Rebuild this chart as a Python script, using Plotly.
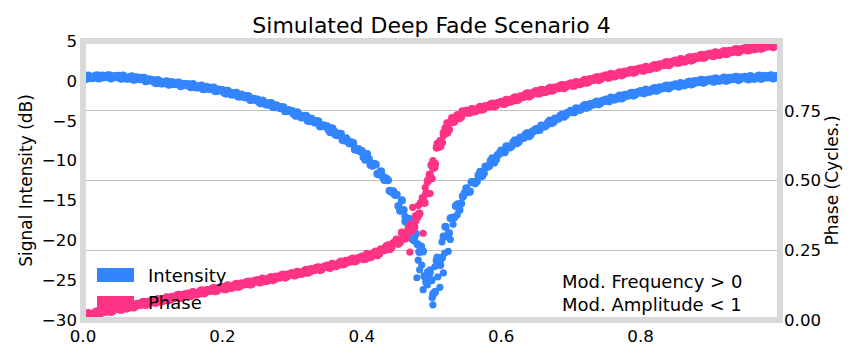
import plotly.graph_objects as go

# ---------------- data ----------------
x_vals = [
    0.000, 0.005, 0.010, 0.015, 0.020, 0.025, 0.030, 0.035, 0.040, 0.045,
    0.050, 0.055, 0.060, 0.065, 0.070, 0.075, 0.080, 0.085, 0.090, 0.095,
    0.100, 0.105, 0.110, 0.115, 0.120, 0.125, 0.130, 0.135, 0.140, 0.145,
    0.150, 0.155, 0.160, 0.165, 0.170, 0.175, 0.180, 0.185, 0.190, 0.195,
    0.200, 0.205, 0.210, 0.215, 0.220, 0.225, 0.230, 0.235, 0.240, 0.245,
    0.250, 0.255, 0.260, 0.265, 0.270, 0.275, 0.280, 0.285, 0.290, 0.295,
    0.300, 0.305, 0.310, 0.315, 0.320, 0.325, 0.330, 0.335, 0.340, 0.345,
    0.350, 0.355, 0.360, 0.365, 0.370, 0.375, 0.380, 0.385, 0.390, 0.395,
    0.400, 0.405, 0.410, 0.415, 0.420, 0.425, 0.430, 0.435, 0.440, 0.445,
    0.450, 0.455, 0.460, 0.465, 0.470, 0.475, 0.480, 0.485, 0.490, 0.495,
    0.500, 0.505, 0.510, 0.515, 0.520, 0.525, 0.530, 0.535, 0.540, 0.545,
    0.550, 0.555, 0.560, 0.565, 0.570, 0.575, 0.580, 0.585, 0.590, 0.595,
    0.600, 0.605, 0.610, 0.615, 0.620, 0.625, 0.630, 0.635, 0.640, 0.645,
    0.650, 0.655, 0.660, 0.665, 0.670, 0.675, 0.680, 0.685, 0.690, 0.695,
    0.700, 0.705, 0.710, 0.715, 0.720, 0.725, 0.730, 0.735, 0.740, 0.745,
    0.750, 0.755, 0.760, 0.765, 0.770, 0.775, 0.780, 0.785, 0.790, 0.795,
    0.800, 0.805, 0.810, 0.815, 0.820, 0.825, 0.830, 0.835, 0.840, 0.845,
    0.850, 0.855, 0.860, 0.865, 0.870, 0.875, 0.880, 0.885, 0.890, 0.895,
    0.900, 0.905, 0.910, 0.915, 0.920, 0.925, 0.930, 0.935, 0.940, 0.945,
    0.950, 0.955, 0.960, 0.965, 0.970, 0.975, 0.980, 0.985, 0.990, 0.995,
    1.000,
]

intensity_db = [
    0.60, 0.26, 0.52, 0.38, 0.69, 0.35, 0.50, 0.65, 0.30, 0.59,
    0.63, 0.26, 0.48, 0.30, 0.56, 0.17, 0.27, 0.37, -0.05, 0.18,
    0.10, -0.30, -0.10, -0.30, -0.05, -0.45, -0.35, -0.25, -0.65, -0.40,
    -0.40, -0.80, -0.60, -0.82, -0.60, -1.02, -0.95, -0.87, -1.30, -1.10,
    -1.15, -1.60, -1.45, -1.70, -1.50, -1.97, -1.95, -1.92, -2.40, -2.25,
    -2.35, -2.82, -2.70, -2.97, -2.80, -3.30, -3.30, -3.30, -3.80, -3.67,
    -3.80, -4.37, -4.25, -4.57, -4.40, -5.05, -5.05, -5.05, -5.70, -5.57,
    -5.70, -6.45, -6.30, -6.82, -6.65, -7.47, -7.60, -7.70, -8.60, -8.55,
    -8.80, -9.90, -9.80, -10.65, -10.50, -11.75, -12.00, -12.25, -13.80, -13.85,
    -14.30, -16.30, -16.20, -17.75, -17.50, -20.00, -20.50, -20.80, -24.50, -24.00,
    -25.00, -26.50, -22.70, -22.20, -18.30, -19.10, -17.20, -15.70, -16.20, -14.50,
    -13.50, -13.90, -12.70, -12.60, -11.40, -11.60, -10.80, -10.05, -10.25, -9.30,
    -8.75, -8.95, -8.25, -8.15, -7.45, -7.65, -7.20, -6.75, -6.95, -6.35,
    -6.05, -6.15, -5.65, -5.55, -5.00, -5.15, -4.80, -4.40, -4.50, -4.00,
    -3.75, -3.95, -3.53, -3.52, -3.05, -3.27, -3.00, -2.72, -2.95, -2.52,
    -2.35, -2.57, -2.20, -2.25, -1.85, -2.10, -1.85, -1.60, -1.85, -1.45,
    -1.30, -1.56, -1.22, -1.28, -0.90, -1.16, -0.92, -0.68, -0.95, -0.57,
    -0.45, -0.72, -0.40, -0.47, -0.10, -0.37, -0.15, 0.05, -0.25, 0.10,
    0.20, -0.11, 0.18, 0.07, 0.40, 0.08, 0.25, 0.43, 0.10, 0.43,
    0.50, 0.18, 0.45, 0.32, 0.65, 0.32, 0.48, 0.64, 0.30, 0.60,
    0.48,
]

phase_cycles = [
    0.020, 0.012, 0.022, 0.019, 0.031, 0.023, 0.030, 0.038, 0.029, 0.041,
    0.045, 0.037, 0.047, 0.044, 0.056, 0.048, 0.055, 0.063, 0.054, 0.066,
    0.070, 0.062, 0.072, 0.069, 0.081, 0.073, 0.080, 0.088, 0.079, 0.091,
    0.095, 0.086, 0.097, 0.093, 0.106, 0.097, 0.104, 0.112, 0.103, 0.115,
    0.119, 0.110, 0.121, 0.117, 0.130, 0.121, 0.128, 0.136, 0.127, 0.139,
    0.143, 0.135, 0.145, 0.142, 0.154, 0.146, 0.153, 0.161, 0.152, 0.164,
    0.168, 0.160, 0.170, 0.167, 0.180, 0.172, 0.179, 0.187, 0.179, 0.190,
    0.195, 0.187, 0.198, 0.196, 0.209, 0.201, 0.209, 0.217, 0.210, 0.222,
    0.227, 0.219, 0.233, 0.229, 0.245, 0.238, 0.250, 0.263, 0.254, 0.275,
    0.288, 0.280, 0.304, 0.307, 0.342, 0.340, 0.370, 0.420, 0.420, 0.500,
    0.555, 0.560, 0.625, 0.636, 0.687, 0.682, 0.710, 0.726, 0.723, 0.741,
    0.750, 0.743, 0.754, 0.751, 0.764, 0.757, 0.765, 0.773, 0.765, 0.777,
    0.782, 0.775, 0.787, 0.784, 0.798, 0.791, 0.800, 0.809, 0.801, 0.814,
    0.820, 0.812, 0.823, 0.819, 0.832, 0.824, 0.832, 0.840, 0.831, 0.843,
    0.848, 0.840, 0.851, 0.848, 0.861, 0.853, 0.860, 0.868, 0.860, 0.872,
    0.877, 0.869, 0.879, 0.876, 0.888, 0.880, 0.887, 0.895, 0.886, 0.898,
    0.902, 0.894, 0.905, 0.901, 0.914, 0.906, 0.914, 0.922, 0.913, 0.925,
    0.930, 0.922, 0.932, 0.929, 0.941, 0.933, 0.940, 0.948, 0.939, 0.951,
    0.955, 0.946, 0.956, 0.952, 0.964, 0.955, 0.962, 0.969, 0.960, 0.971,
    0.975, 0.966, 0.976, 0.971, 0.983, 0.974, 0.981, 0.988, 0.978, 0.989,
    0.988,
]

# second, interleaved set of samples (half-step positions)
x_half = [
    0.0025, 0.0075, 0.0125, 0.0175, 0.0225, 0.0275, 0.0325, 0.0375, 0.0425, 0.0475,
    0.0525, 0.0575, 0.0625, 0.0675, 0.0725, 0.0775, 0.0825, 0.0875, 0.0925, 0.0975,
    0.1025, 0.1075, 0.1125, 0.1175, 0.1225, 0.1275, 0.1325, 0.1375, 0.1425, 0.1475,
    0.1525, 0.1575, 0.1625, 0.1675, 0.1725, 0.1775, 0.1825, 0.1875, 0.1925, 0.1975,
    0.2025, 0.2075, 0.2125, 0.2175, 0.2225, 0.2275, 0.2325, 0.2375, 0.2425, 0.2475,
    0.2525, 0.2575, 0.2625, 0.2675, 0.2725, 0.2775, 0.2825, 0.2875, 0.2925, 0.2975,
    0.3025, 0.3075, 0.3125, 0.3175, 0.3225, 0.3275, 0.3325, 0.3375, 0.3425, 0.3475,
    0.3525, 0.3575, 0.3625, 0.3675, 0.3725, 0.3775, 0.3825, 0.3875, 0.3925, 0.3975,
    0.4025, 0.4075, 0.4125, 0.4175, 0.4225, 0.4275, 0.4325, 0.4375, 0.4425, 0.4475,
    0.4525, 0.4575, 0.4625, 0.4675, 0.4725, 0.4775, 0.4825, 0.4875, 0.4925, 0.4975,
    0.5025, 0.5075, 0.5125, 0.5175, 0.5225, 0.5275, 0.5325, 0.5375, 0.5425, 0.5475,
    0.5525, 0.5575, 0.5625, 0.5675, 0.5725, 0.5775, 0.5825, 0.5875, 0.5925, 0.5975,
    0.6025, 0.6075, 0.6125, 0.6175, 0.6225, 0.6275, 0.6325, 0.6375, 0.6425, 0.6475,
    0.6525, 0.6575, 0.6625, 0.6675, 0.6725, 0.6775, 0.6825, 0.6875, 0.6925, 0.6975,
    0.7025, 0.7075, 0.7125, 0.7175, 0.7225, 0.7275, 0.7325, 0.7375, 0.7425, 0.7475,
    0.7525, 0.7575, 0.7625, 0.7675, 0.7725, 0.7775, 0.7825, 0.7875, 0.7925, 0.7975,
    0.8025, 0.8075, 0.8125, 0.8175, 0.8225, 0.8275, 0.8325, 0.8375, 0.8425, 0.8475,
    0.8525, 0.8575, 0.8625, 0.8675, 0.8725, 0.8775, 0.8825, 0.8875, 0.8925, 0.8975,
    0.9025, 0.9075, 0.9125, 0.9175, 0.9225, 0.9275, 0.9325, 0.9375, 0.9425, 0.9475,
    0.9525, 0.9575, 0.9625, 0.9675, 0.9725, 0.9775, 0.9825, 0.9875, 0.9925, 0.9975,
]

intensity_half = [
    0.36, 0.67, 0.33, 0.59, 0.30, 0.65, 0.45, 0.70, 0.40, 0.54,
    0.37, 0.65, 0.27, 0.48, 0.14, 0.45, 0.20, 0.39, 0.02, 0.07,
    -0.17, 0.08, -0.32, -0.12, -0.47, -0.17, -0.42, -0.22, -0.57, -0.47,
    -0.67, -0.42, -0.83, -0.66, -1.04, -0.76, -1.03, -0.86, -1.25, -1.20,
    -1.45, -1.25, -1.70, -1.55, -1.96, -1.73, -2.06, -1.93, -2.37, -2.37,
    -2.66, -2.48, -2.96, -2.83, -3.27, -3.07, -3.42, -3.32, -3.78, -3.81,
    -4.16, -3.95, -4.58, -4.43, -5.01, -4.75, -5.22, -5.09, -5.69, -5.71,
    -6.17, -5.97, -6.75, -6.66, -7.41, -7.21, -7.85, -7.82, -8.65, -8.82,
    -9.55, -9.20, -10.52, -10.40, -11.67, -11.35, -12.44, -12.47, -13.92, -14.30,
    -15.70, -15.00, -17.65, -17.30, -19.85, -19.20, -21.45, -21.40, -25.25, -24.05,
    -26.75, -22.55, -23.10, -19.55, -19.50, -17.25, -17.15, -15.50, -15.40, -14.10,
    -13.90, -12.70, -12.85, -11.85, -11.95, -10.75, -10.68, -9.72, -9.88, -9.12,
    -8.95, -8.21, -8.35, -7.72, -7.83, -7.12, -7.14, -6.56, -6.70, -6.25,
    -6.17, -5.62, -5.72, -5.22, -5.30, -4.75, -4.72, -4.22, -4.30, -3.95,
    -3.92, -3.46, -3.65, -3.24, -3.38, -2.91, -2.98, -2.61, -2.78, -2.51,
    -2.53, -2.11, -2.35, -2.00, -2.20, -1.75, -1.85, -1.50, -1.70, -1.45,
    -1.50, -1.11, -1.37, -1.04, -1.25, -0.81, -0.92, -0.59, -0.81, -0.58,
    -0.66, -0.28, -0.56, -0.23, -0.46, -0.03, -0.17, 0.13, -0.12, 0.07,
    -0.03, 0.31, 0.00, 0.28, 0.01, 0.39, 0.22, 0.49, 0.21, 0.39,
    0.26, 0.59, 0.26, 0.53, 0.26, 0.62, 0.43, 0.69, 0.40, 0.54,
]

phase_half = [
    0.012, 0.025, 0.016, 0.027, 0.020, 0.033, 0.029, 0.040, 0.032, 0.041,
    0.037, 0.050, 0.041, 0.052, 0.045, 0.058, 0.054, 0.065, 0.057, 0.066,
    0.062, 0.075, 0.066, 0.077, 0.070, 0.083, 0.079, 0.090, 0.082, 0.091,
    0.087, 0.100, 0.091, 0.101, 0.095, 0.107, 0.104, 0.114, 0.106, 0.115,
    0.111, 0.124, 0.115, 0.125, 0.119, 0.131, 0.128, 0.138, 0.130, 0.139,
    0.135, 0.148, 0.139, 0.150, 0.143, 0.156, 0.152, 0.163, 0.155, 0.164,
    0.160, 0.173, 0.165, 0.175, 0.169, 0.182, 0.179, 0.189, 0.182, 0.191,
    0.188, 0.201, 0.193, 0.204, 0.199, 0.212, 0.209, 0.220, 0.213, 0.222,
    0.218, 0.237, 0.225, 0.241, 0.232, 0.253, 0.250, 0.268, 0.260, 0.278,
    0.273, 0.313, 0.292, 0.331, 0.322, 0.372, 0.381, 0.438, 0.453, 0.521,
    0.545, 0.618, 0.622, 0.670, 0.671, 0.709, 0.711, 0.734, 0.728, 0.744,
    0.743, 0.756, 0.748, 0.759, 0.754, 0.767, 0.765, 0.776, 0.769, 0.778,
    0.775, 0.789, 0.782, 0.794, 0.788, 0.802, 0.800, 0.812, 0.806, 0.815,
    0.812, 0.825, 0.817, 0.828, 0.822, 0.834, 0.831, 0.842, 0.835, 0.844,
    0.840, 0.853, 0.845, 0.856, 0.850, 0.863, 0.860, 0.871, 0.863, 0.872,
    0.869, 0.882, 0.873, 0.884, 0.877, 0.890, 0.886, 0.897, 0.889, 0.898,
    0.894, 0.907, 0.899, 0.910, 0.904, 0.916, 0.913, 0.924, 0.917, 0.926,
    0.922, 0.935, 0.926, 0.937, 0.930, 0.943, 0.939, 0.950, 0.942, 0.951,
    0.947, 0.959, 0.950, 0.960, 0.953, 0.965, 0.961, 0.971, 0.963, 0.971,
    0.967, 0.979, 0.970, 0.979, 0.972, 0.984, 0.980, 0.990, 0.981, 0.989,
]

# extra scattered points inside the deep fade
fade_x_int = [0.481, 0.488, 0.483, 0.479, 0.494, 0.498, 0.505, 0.512, 0.519, 0.524,
              0.517, 0.509, 0.488, 0.512, 0.501, 0.502, 0.494, 0.515, 0.527, 0.508,
              0.486, 0.462, 0.468, 0.476, 0.531, 0.537]
fade_int = [-22.5, -21.4, -23.7, -24.7, -25.0, -23.7, -23.3, -22.7, -21.6, -21.4,
            -24.1, -24.6, -26.2, -25.9, -27.2, -28.1, -25.6, -20.2, -19.9, -22.1,
            -23.1, -17.0, -18.6, -19.5, -18.0, -16.8]

fade_x_phase = [0.473, 0.481, 0.491, 0.494, 0.501, 0.505, 0.502, 0.508, 0.512, 0.524,
                0.522, 0.531, 0.529, 0.488, 0.476, 0.469, 0.483, 0.544, 0.498, 0.466,
                0.478, 0.517, 0.536]
fade_phase = [0.404, 0.410, 0.475, 0.493, 0.507, 0.547, 0.571, 0.632, 0.643, 0.679,
              0.707, 0.714, 0.725, 0.311, 0.332, 0.243, 0.382, 0.750, 0.453, 0.322,
              0.356, 0.660, 0.733]

x_ticks = [0.0, 0.2, 0.4, 0.6, 0.8]
x_tick_text = ["0.0", "0.2", "0.4", "0.6", "0.8"]
y_ticks = [5, 0, -5, -10, -15, -20, -25, -30]
phase_ticks = [0.0, 0.25, 0.5, 0.75]
phase_tick_text = ["0.00", "0.25", "0.50", "0.75"]

BLUE = "#3385ff"
PINK = "#ff3385"
FONT = "DejaVu Sans"
FS = 16.67       # tick labels
FS_AX = 17       # axis titles
FS_TXT = 18      # legend and note text
FS_TITLE = 22

fig = go.Figure()
# Intensity (left axis): band + fade cloud
fig.add_trace(go.Scatter(
    x=x_vals + x_half, y=intensity_db + intensity_half,
    mode="markers", marker=dict(color=BLUE, size=8.2, line=dict(width=0)),
    name="Intensity", showlegend=False, yaxis="y",
))
fig.add_trace(go.Scatter(
    x=fade_x_int, y=fade_int,
    mode="markers", marker=dict(color=BLUE, size=7.2, line=dict(width=0)),
    name="Intensity", showlegend=False, yaxis="y",
))
# Phase (right axis): band + fade cloud
fig.add_trace(go.Scatter(
    x=x_vals + x_half, y=phase_cycles + phase_half,
    mode="markers", marker=dict(color=PINK, size=8.2, line=dict(width=0)),
    name="Phase", showlegend=False, yaxis="y2",
))
fig.add_trace(go.Scatter(
    x=fade_x_phase, y=fade_phase,
    mode="markers", marker=dict(color=PINK, size=7.2, line=dict(width=0)),
    name="Phase", showlegend=False, yaxis="y2",
))

# plot area in page pixels: left 83, right 780, top 41, bottom 320
# (the page body adds an 8px offset around the figure)
OFF = 8
L, R, T, B = 83, 780, 41, 320
W, H = 864 - OFF, 360 - OFF


def px(xp):
    return (xp - L) / (R - L)


def py(yp):
    return (B - yp) / (B - T)


fig.update_layout(
    width=W, height=H,
    margin=dict(l=L - OFF, r=864 - R, t=T - OFF, b=360 - B, pad=0),
    paper_bgcolor="white", plot_bgcolor="white",
    font=dict(family=FONT, size=FS, color="black"),
    title=dict(text="Simulated Deep Fade Scenario 4", x=0.5, xref="paper",
               y=1 - (25 - OFF) / H, yref="container", xanchor="center", yanchor="middle",
               font=dict(family=FONT, size=FS_TITLE, color="black")),
    xaxis=dict(range=[0, 1], tickvals=x_ticks, ticktext=x_tick_text,
               showgrid=False, zeroline=False, showline=False, ticks="",
               ticklabelstandoff=4, automargin=False,
               tickfont=dict(family=FONT, size=FS, color="black")),
    yaxis=dict(range=[-30, 5], tickvals=y_ticks, showgrid=False, zeroline=False,
               showline=False, ticks="", ticklabelstandoff=5, automargin=False,
               tickfont=dict(family=FONT, size=FS, color="black"),
               title=dict(text="Signal Intensity (dB)", standoff=4,
                          font=dict(family=FONT, size=FS_AX, color="black"))),
    yaxis2=dict(range=[0, 1], overlaying="y", side="right", tickvals=phase_ticks,
                ticktext=phase_tick_text, showgrid=True, gridcolor="#c0c0c0",
                gridwidth=1, zeroline=False, showline=False, ticks="",
                ticklabelstandoff=3, automargin=False,
                tickfont=dict(family=FONT, size=FS, color="black"),
                title=dict(text="Phase (Cycles.)", standoff=6,
                           font=dict(family=FONT, size=FS_AX, color="black"))),
    showlegend=False,
)

# frame
fig.add_shape(type="rect", xref="paper", yref="paper", x0=0, x1=1, y0=0, y1=1,
              line=dict(color="#d9d9d9", width=6), layer="above")

# manual legend
fig.add_shape(type="rect", xref="paper", yref="paper",
              x0=px(97), x1=px(134), y0=py(282), y1=py(268),
              fillcolor=BLUE, line=dict(width=0), layer="above")
fig.add_shape(type="rect", xref="paper", yref="paper",
              x0=px(97), x1=px(134), y0=py(309), y1=py(296),
              fillcolor=PINK, line=dict(width=0), layer="above")
fig.add_annotation(text="Intensity", xref="paper", yref="paper", x=px(146), y=py(275),
                   xanchor="left", yanchor="middle", showarrow=False,
                   font=dict(family=FONT, size=FS_TXT, color="black"))
fig.add_annotation(text="Phase", xref="paper", yref="paper", x=px(146), y=py(302),
                   xanchor="left", yanchor="middle", showarrow=False,
                   font=dict(family=FONT, size=FS_TXT, color="black"))

fig.add_annotation(text="Mod. Frequency > 0<br>Mod. Amplitude < 1",
                   xref="paper", yref="paper", x=px(560), y=py(293),
                   xanchor="left", yanchor="middle", align="left", showarrow=False,
                   font=dict(family=FONT, size=FS_TXT, color="black"))

fig.write_html("out.html")
